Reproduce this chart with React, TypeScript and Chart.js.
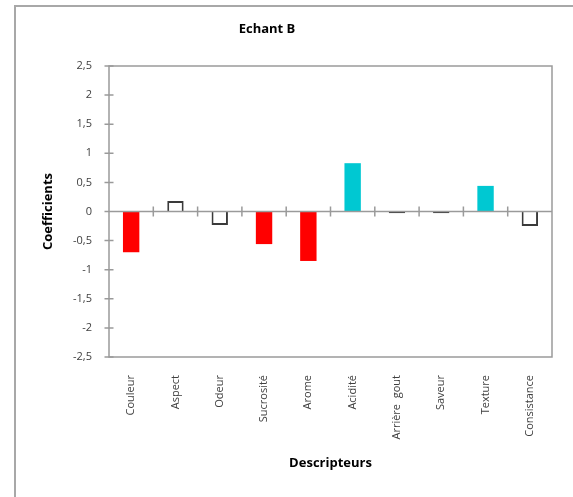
import React, { useEffect, useRef } from "react";
import { Chart, registerables } from "chart.js";

Chart.register(...registerables);

// Descriptors and their coefficients for sample B
const categories = [
  "Couleur",
  "Aspect",
  "Odeur",
  "Sucrosité",
  "Arome",
  "Acidité",
  "Arrière  gout",
  "Saveur",
  "Texture",
  "Consistance",
];
const coefficients = [-0.7, 0.18, -0.23, -0.56, -0.85, 0.83, -0.03, -0.03, 0.44, -0.25];
// -1: significantly negative, 1: significantly positive, 0: not significant
const significance = [-1, 0, 0, -1, -1, 1, 0, 0, 1, 0];
const yTickValues = [-2.5, -2, -1.5, -1, -0.5, 0, 0.5, 1, 1.5, 2, 2.5];

const chartTitle = "Echant B";
const xTitle = "Descripteurs";
const yTitle = "Coefficients";

const FONT = "'Open Sans', 'DejaVu Sans', sans-serif";
const AXIS_GREY = "#9a9a9a";

const fillFor = (s: number) => (s < 0 ? "#ff0000" : s > 0 ? "#00c8d2" : "#ffffff");
const borderFor = (s: number) => (s === 0 ? "#3a3a3a" : "rgba(0,0,0,0)");

const decorations = {
  id: "decorations",
  beforeDraw(chart: any) {
    const ctx = chart.ctx;
    ctx.save();
    ctx.fillStyle = "#ffffff";
    ctx.fillRect(0, 0, chart.width, chart.height);
    // outer chart frame
    ctx.strokeStyle = "#a8a8a8";
    ctx.lineWidth = 2;
    ctx.beginPath();
    ctx.moveTo(15, chart.height + 10);
    ctx.lineTo(15, 6);
    ctx.lineTo(chart.width + 10, 6);
    ctx.stroke();
    // chart title
    ctx.fillStyle = "#000000";
    ctx.font = `bold 13px ${FONT}`;
    ctx.textAlign = "center";
    ctx.textBaseline = "middle";
    ctx.fillText(chartTitle, 267, 29);
    ctx.restore();
  },
  afterDatasetsDraw(chart: any) {
    const ctx = chart.ctx;
    const area = chart.chartArea;
    const xs = chart.scales.x;
    const ys = chart.scales.y;
    const y0 = ys.getPixelForValue(0);
    ctx.save();
    ctx.strokeStyle = AXIS_GREY;
    ctx.lineWidth = 1.5;
    ctx.strokeRect(area.left, area.top, area.right - area.left, area.bottom - area.top);
    ctx.beginPath();
    ctx.moveTo(area.left, y0);
    ctx.lineTo(area.right, y0);
    // category boundary ticks across the zero line
    for (let i = 1; i < categories.length; i++) {
      const x = (xs.getPixelForValue(i - 1) + xs.getPixelForValue(i)) / 2;
      ctx.moveTo(x, y0 - 5);
      ctx.lineTo(x, y0 + 5);
    }
    // value ticks across the vertical axis
    for (const v of yTickValues) {
      const y = ys.getPixelForValue(v);
      ctx.moveTo(area.left - 4.5, y);
      ctx.lineTo(area.left + 4.5, y);
    }
    ctx.stroke();
    ctx.restore();
  },
};

export default function App() {
  const canvasRef = useRef<HTMLCanvasElement | null>(null);

  useEffect(() => {
    const canvas = canvasRef.current;
    if (!canvas) return;
    const chart = new Chart(canvas, {
      type: "bar",
      data: {
        labels: categories,
        datasets: [
          {
            data: coefficients,
            backgroundColor: significance.map(fillFor),
            borderColor: significance.map(borderFor),
            borderWidth: significance.map((s) => (s === 0 ? 2 : 0)),
            // very short bars keep their full outline so they stay visible
            borderSkipped: (c: any) =>
              Math.abs(coefficients[c.dataIndex]) < 0.1 ? false : "start",
            categoryPercentage: 1,
            barPercentage: 0.37,
          },
        ],
      },
      options: {
        responsive: false,
        animation: false,
        devicePixelRatio: 1,
        layout: { padding: { left: 34, right: 21, top: 66, bottom: 20 } },
        plugins: {
          legend: { display: false },
          title: { display: false },
          tooltip: { enabled: false },
        },
        scales: {
          x: {
            grid: { display: false, drawTicks: false },
            border: { display: false },
            afterFit(scale: any) {
              scale.height = 120;
            },
            ticks: {
              autoSkip: false,
              maxRotation: 90,
              minRotation: 90,
              padding: 18,
              color: "#404040",
              font: { family: FONT, size: 11 },
            },
            title: {
              display: true,
              text: xTitle,
              color: "#000000",
              font: { family: FONT, size: 13, weight: "bold" },
              padding: { top: 0, bottom: 6 },
            },
          },
          y: {
            min: -2.5,
            max: 2.5,
            grid: { display: false, drawTicks: false },
            border: { display: false },
            afterFit(scale: any) {
              scale.width = 75;
            },
            afterBuildTicks(scale: any) {
              scale.ticks = yTickValues.map((value) => ({ value }));
            },
            ticks: {
              padding: 17,
              color: "#404040",
              font: { family: FONT, size: 11 },
              callback: (v: any) => String(v).replace(".", ","),
            },
            title: {
              display: true,
              text: yTitle,
              color: "#000000",
              font: { family: FONT, size: 13, weight: "bold" },
              padding: { top: 6, bottom: 0 },
            },
          },
        },
      },
      plugins: [decorations],
    });
    return () => chart.destroy();
  }, []);

  return (
    <div style={{ position: "fixed", left: 0, top: 0, width: 573, height: 497, background: "#fff" }}>
      <canvas ref={canvasRef} width={573} height={497} style={{ display: "block" }} />
    </div>
  );
}
